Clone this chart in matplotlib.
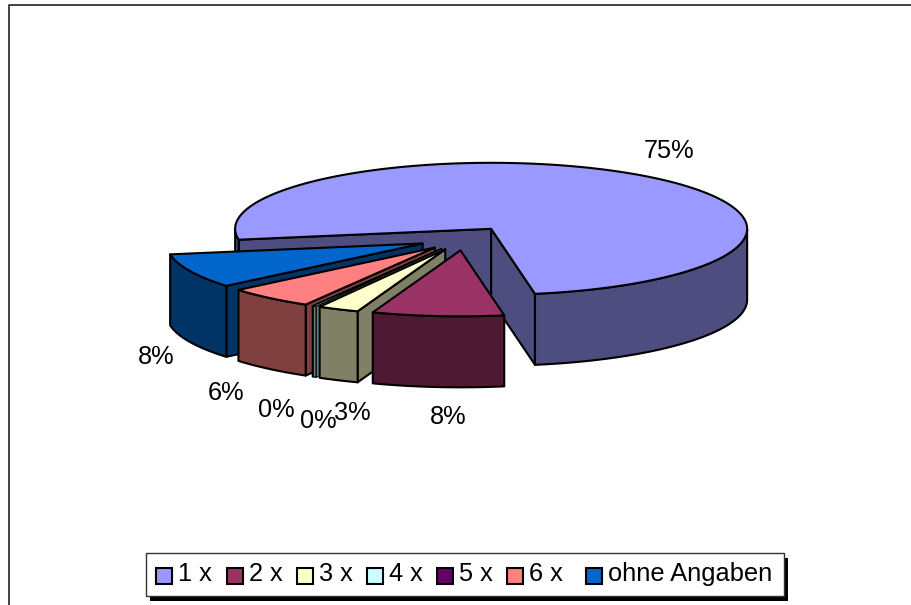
import numpy as np
import matplotlib
matplotlib.use('Agg')
import matplotlib.pyplot as plt
from matplotlib.patches import Polygon, Rectangle

plt.rcParams['font.family'] = ['Liberation Sans', 'DejaVu Sans']

categories = ['1 x', '2 x', '3 x', '4 x', '5 x', '6 x', 'ohne Angaben']
values = [74.9, 8.3, 2.6, 0.2, 0.05, 5.5, 8.45]
top_colors = ['#9999FF', '#993366', '#FFFFCC', '#CCFFFF', '#660066', '#FF8080', '#0066CC']
side_colors = ['#4D4D80', '#4D1933', '#808066', '#668080', '#330033', '#804040', '#003366']

# pie layout in pixels
cx, cy = 464.5, 238.5
rx, ry = 256, 66
depth = 71
explode = 0.18
start = 260.5
# labels sit by hand where the original put them
label_xy = [(669, 151), (448, 417), (352, 413), (318, 421), (276, 410), (226, 393), (156, 357)]
legend_x = [156, 227, 297, 367, 437, 507, 586]


def ell(t, ox, oy):
    t = np.radians(t)
    return ox + rx * np.sin(t), oy - ry * np.cos(t)


def wall(ax, pts, color, lw=1.5):
    ax.add_patch(Polygon(pts, closed=True, fc=color, ec='black', lw=lw, joinstyle='round'))


fig = plt.figure(figsize=(9.12, 6.05), dpi=100)
ax = fig.add_axes([0, 0, 1, 1])
ax.set_xlim(0, 912)
ax.set_ylim(605, 0)
ax.axis('off')

# chart frame, open on the right and bottom
ax.plot([9, 9, 912], [605, 5, 5], color='#222222', lw=1.2)

sweeps = np.array(values) / sum(values) * 360
starts = start + np.concatenate([[0], np.cumsum(sweeps)[:-1]])

# back to front: big slice, then the small ones from left to right
order = [0, 6, 5, 4, 3, 2, 1]
for i in order:
    a0, a1 = starts[i], starts[i] + sweeps[i]
    mid = (a0 + a1) / 2
    ox = cx + explode * rx * np.sin(np.radians(mid))
    oy = cy - explode * ry * np.cos(np.radians(mid))
    # the two thin slices would vanish under a full outline
    lw = 0.8 if sweeps[i] < 1 else 1.5

    # radial walls, only those that face the viewer
    for a, normal in ((a0, a0 - 90), (a1, a1 + 90)):
        if np.cos(np.radians(normal)) >= 0:
            continue
        x, y = ell(a, ox, oy)
        wall(ax, [(ox, oy), (x, y), (x, y + depth), (ox, oy + depth)], side_colors[i], lw)

    # outer wall, only the front half of the ellipse shows
    ts = np.linspace(a0, a1, max(int(sweeps[i] * 2), 6))
    front = np.cos(np.radians(ts)) <= 0
    for part in np.split(np.arange(len(ts)), np.where(np.diff(front.astype(int)) != 0)[0] + 1):
        if not front[part[0]] or len(part) < 2:
            continue
        xs, ys = ell(ts[part], ox, oy)
        pts = list(zip(xs, ys)) + list(zip(xs[::-1], ys[::-1] + depth))
        wall(ax, pts, side_colors[i], lw)

    # top face
    xs, ys = ell(ts, ox, oy)
    wall(ax, [(ox, oy)] + list(zip(xs, ys)), top_colors[i], lw)

for v, (x, y) in zip(values, label_xy):
    ax.text(x, y, f'{v:.0f}%', fontsize=18.3, ha='center', va='center', color='black')

# legend box with its hard shadow
ax.add_patch(Rectangle((150, 558), 638, 43, fc='black', ec='none'))
ax.add_patch(Rectangle((146, 553), 638, 43, fc='white', ec='#333333', lw=1))
for name, color, x in zip(categories, top_colors, legend_x):
    ax.add_patch(Rectangle((x, 568), 16, 16, fc=color, ec='black', lw=1.5))
    ax.text(x + 22, 574, name, fontsize=18.3, ha='left', va='center', color='black')

fig.savefig('out.png', dpi=100)
